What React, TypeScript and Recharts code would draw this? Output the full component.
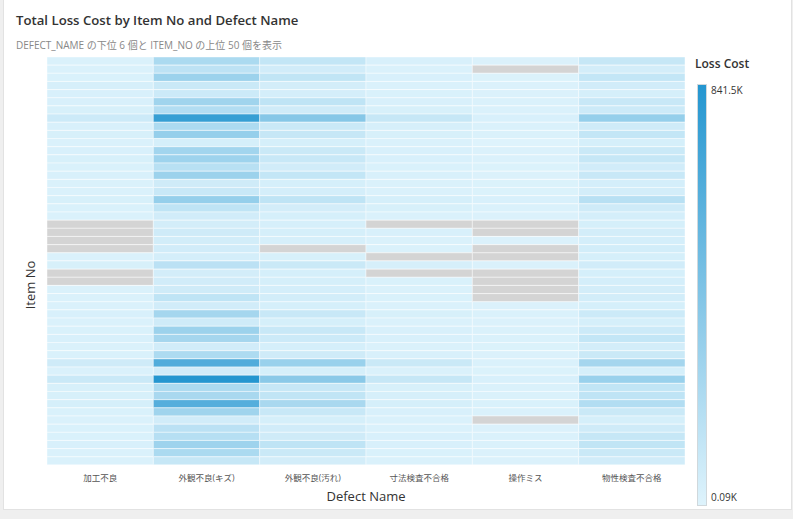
import React from 'react';
import { BarChart, Bar, XAxis, YAxis, Cell } from 'recharts';

const defectNames = ['加工不良', '外観不良(キズ)', '外観不良(汚れ)', '寸法検査不合格', '操作ミス', '物性検査不合格'];

const itemNos = [
  'ITEM-01', 'ITEM-02', 'ITEM-03', 'ITEM-04', 'ITEM-05', 'ITEM-06', 'ITEM-07', 'ITEM-08', 'ITEM-09', 'ITEM-10',
  'ITEM-11', 'ITEM-12', 'ITEM-13', 'ITEM-14', 'ITEM-15', 'ITEM-16', 'ITEM-17', 'ITEM-18', 'ITEM-19', 'ITEM-20',
  'ITEM-21', 'ITEM-22', 'ITEM-23', 'ITEM-24', 'ITEM-25', 'ITEM-26', 'ITEM-27', 'ITEM-28', 'ITEM-29', 'ITEM-30',
  'ITEM-31', 'ITEM-32', 'ITEM-33', 'ITEM-34', 'ITEM-35', 'ITEM-36', 'ITEM-37', 'ITEM-38', 'ITEM-39', 'ITEM-40',
  'ITEM-41', 'ITEM-42', 'ITEM-43', 'ITEM-44', 'ITEM-45', 'ITEM-46', 'ITEM-47', 'ITEM-48', 'ITEM-49', 'ITEM-50',
];

// Loss cost in K, per defect name, ordered by item (top to bottom). null = no data (gray)
const kakouFuryo = [20, 18, 22, 35, 25, 28, 30, 80, 25, 30, 20, 25, 30, 22, 28, 20, 20, 30, 22, 20, null, null, null, null, 18, 30, null, null, 18, 20, 20, 25, 18, 22, 25, 16, 22, 70, 16, 90, 30, 30, 40, 22, 16, 22, 22, 25, 20, 18];
const gaikanKizu = [230, 150, 300, 90, 80, 280, 200, 760, 220, 330, 40, 270, 290, 170, 300, 70, 100, 330, 140, 60, 50, 70, 55, 60, 45, 160, 50, 60, 70, 140, 60, 260, 70, 300, 260, 60, 220, 640, 60, 841.5, 230, 240, 620, 280, 60, 160, 180, 290, 230, 110];
const gaikanYogore = [120, 60, 130, 50, 45, 140, 70, 400, 90, 110, 40, 90, 100, 60, 120, 40, 45, 140, 50, 40, 35, 40, 35, null, 30, 90, 40, 40, 45, 55, 40, 100, 40, 100, 80, 40, 70, 310, 40, 380, 110, 130, 240, 100, 40, 60, 70, 140, 90, 50];
const sunpouKensa = [25, 20, 28, 20, 22, 25, 30, 110, 35, 30, 20, 25, 28, 22, 25, 18, 20, 40, 30, 20, null, 25, 20, 18, null, 35, null, 22, 20, 22, 18, 30, 18, 25, 25, 18, 25, 90, 16, 110, 30, 35, 40, 25, 18, 20, 25, 25, 22, 20];
const sousaMiss = [15, null, 12, 15, 14, 18, 20, 25, 20, 18, 0.09, 15, 14, 12, 15, 12, 12, 25, 20, 14, null, null, 14, null, null, 20, null, null, null, null, 14, 18, 14, 16, 18, 12, 15, 20, 12, 25, 20, 20, 22, 16, null, 14, 16, 18, 15, 14];
const busseiKensa = [110, 50, 120, 60, 40, 100, 80, 330, 70, 120, 40, 90, 110, 60, 100, 45, 50, 170, 70, 45, 40, 50, 45, 55, 40, 60, 40, 45, 50, 55, 40, 80, 40, 80, 120, 50, 90, 260, 40, 310, 130, 140, 200, 90, 40, 70, 110, 130, 90, 60];

const seriesValues = [kakouFuryo, gaikanKizu, gaikanYogore, sunpouKensa, sousaMiss, busseiKensa];

const legendMaxLabel = '841.5K';
const legendMinLabel = '0.09K';
const minValue = 0.09;
const maxValue = 841.5;

const LOW = [222, 243, 252];
const HIGH = [36, 150, 208];
const NULL_COLOR = '#d4d4d4';

function colorFor(v: number | null): string {
  if (v == null) return NULL_COLOR;
  const t = Math.max(0, Math.min(1, (v - minValue) / (maxValue - minValue)));
  const c = LOW.map((l, k) => Math.round(l + (HIGH[k] - l) * t));
  return `rgb(${c[0]},${c[1]},${c[2]})`;
}

const rows = itemNos.map((item, i) => {
  const r: Record<string, any> = { item };
  defectNames.forEach((_, j) => {
    r[`d${j}`] = 1;
    r[`v${j}`] = seriesValues[j][i];
  });
  return r;
});

const FONT = "'Open Sans', 'Noto Sans CJK JP', sans-serif";

export default function App() {
  return (
    <div style={{ position: 'fixed', left: 0, top: 0, width: 793, height: 519, background: '#efefef', fontFamily: FONT }}>
      <div style={{ position: 'absolute', left: 3, top: 0, width: 787, height: 509, background: '#ffffff', borderLeft: '1px solid #e2e2e2', borderRight: '1px solid #e2e2e2', borderBottom: '1px solid #e2e2e2' }} />
      <div style={{ position: 'absolute', left: 16, top: 11, fontSize: 13.2, fontWeight: 600, color: '#333', whiteSpace: 'nowrap' }}>
        Total Loss Cost by Item No and Defect Name
      </div>
      <div style={{ position: 'absolute', left: 16, top: 37, fontSize: 10, color: '#888', whiteSpace: 'nowrap' }}>
        DEFECT_NAME の下位 6 個と ITEM_NO の上位 50 個を表示
      </div>
      <div style={{ position: 'absolute', left: 0, top: 0 }}>
        <BarChart
          width={793}
          height={519}
          data={rows}
          layout="vertical"
          margin={{ top: 57, right: 108, bottom: 24, left: 47 }}
          barCategoryGap={0}
        >
          <XAxis
            type="number"
            domain={[0, 6]}
            ticks={[0.5, 1.5, 2.5, 3.5, 4.5, 5.5]}
            tickFormatter={(v: number) => defectNames[Math.floor(v)]}
            axisLine={false}
            tickLine={false}
            height={30}
            tick={{ fontSize: 8.5, fill: '#555', fontFamily: FONT }}
            tickMargin={4}
            interval={0}
          />
          <YAxis type="category" dataKey="item" hide />
          {defectNames.map((name, j) => (
            <Bar key={name} name={name} dataKey={`d${j}`} stackId="s" isAnimationActive={false}>
              {rows.map((r, i) => (
                <Cell key={i} fill={colorFor(r[`v${j}`])} stroke="#ffffff" strokeOpacity={0.7} strokeWidth={0.6} />
              ))}
            </Bar>
          ))}
        </BarChart>
      </div>
      <div style={{ position: 'absolute', left: 0, top: 285, width: 60, transform: 'translate(0,-50%) rotate(-90deg)', transformOrigin: 'center', fontSize: 13, color: '#333', textAlign: 'center', whiteSpace: 'nowrap' }}>
        Item No
      </div>
      <div style={{ position: 'absolute', left: 366, top: 487, transform: 'translateX(-50%)', fontSize: 13, color: '#333', whiteSpace: 'nowrap' }}>
        Defect Name
      </div>
      <div style={{ position: 'absolute', left: 695, top: 55, fontSize: 12, fontWeight: 600, color: '#333', whiteSpace: 'nowrap' }}>
        Loss Cost
      </div>
      <div style={{ position: 'absolute', left: 697, top: 84, width: 8, height: 420, background: 'linear-gradient(to bottom, rgb(36,150,208), rgb(222,243,252))', border: '1px solid #d0d8dc' }} />
      <div style={{ position: 'absolute', left: 711, top: 83, fontSize: 10, color: '#333', whiteSpace: 'nowrap' }}>
        {legendMaxLabel}
      </div>
      <div style={{ position: 'absolute', left: 711, top: 490, fontSize: 10, color: '#333', whiteSpace: 'nowrap' }}>
        {legendMinLabel}
      </div>
    </div>
  );
}
